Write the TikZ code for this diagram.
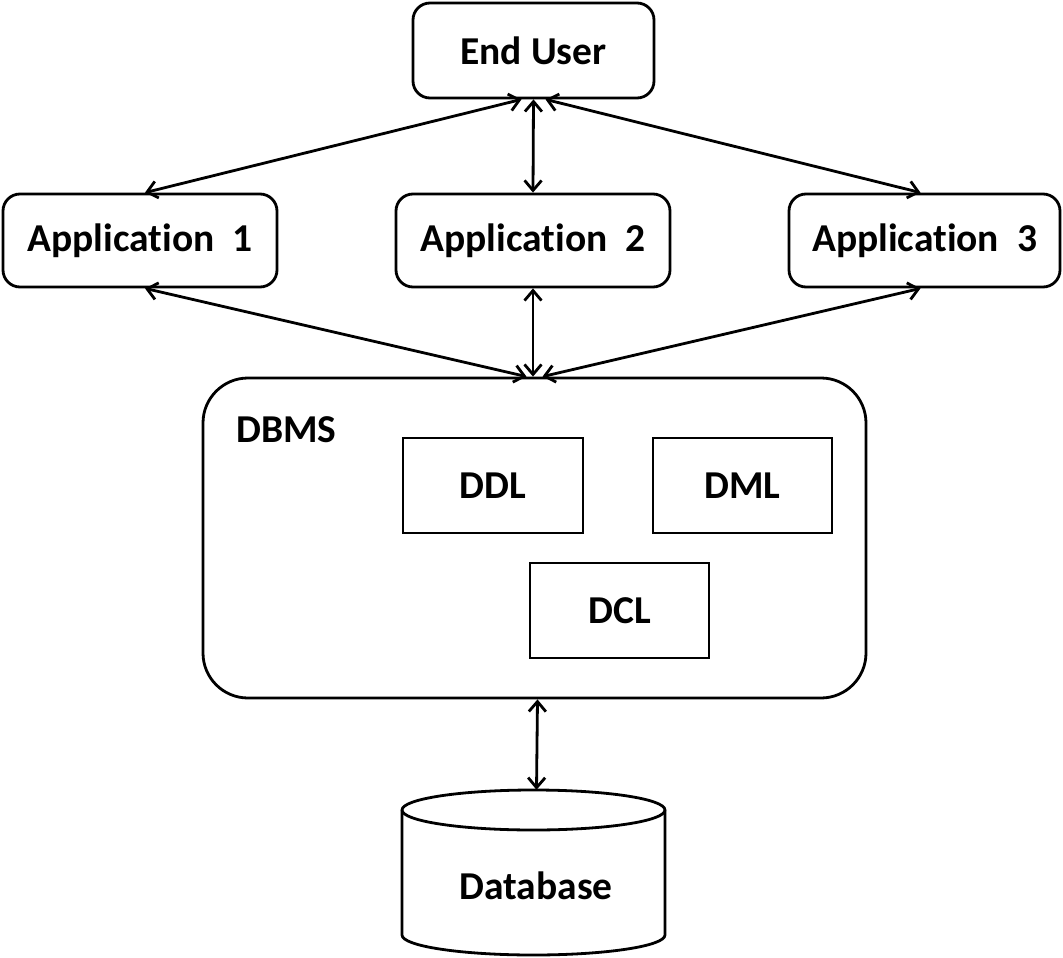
\documentclass[tikz,border=0pt]{standalone}
\usepackage{fontspec}
\setmainfont[Ligatures={NoCommon}]{Carlito}
\usetikzlibrary{arrows.meta}
\tikzset{
  lbl/.style={font=\fontsize{39.5}{42}\selectfont\bfseries},
  box/.style={draw, line width=2.8pt, rounded corners=17pt, inner sep=0pt, lbl},
  sq/.style={draw, line width=2.8pt, inner sep=0pt, lbl},
  conn/.style={line width=2.8pt, {Straight Barb[length=10pt,width=17pt,line width=2.8pt]}-{Straight Barb[length=10pt,width=17pt,line width=2.8pt]}},
}
\begin{document}
\begin{tikzpicture}[x=1pt,y=-1pt]
\useasboundingbox (0,0) rectangle (1063,958);
\node[box, minimum width=241pt, minimum height=95pt] (eu) at (533.5,50.5) {End User};
\node[box, minimum width=274pt, minimum height=93pt] (a1) at (140,240.5) {Application\ \ 1};
\node[box, minimum width=274pt, minimum height=93pt] (a2) at (533,240.5) {Application\ \ 2};
\node[box, minimum width=271pt, minimum height=93pt] (a3) at (924.5,240.5) {Application\ \ 3};
\node[draw, line width=2.8pt, rounded corners=45pt, minimum width=663pt, minimum height=320pt] (dbms) at (534.5,538) {};
\node[lbl, anchor=west, inner sep=0pt] (dbmsl) at (236,430) {DBMS};
\node[sq, minimum width=180pt, minimum height=95pt] (ddl) at (493,485.5) {DDL};
\node[sq, minimum width=179pt, minimum height=95pt] (dml) at (742.5,485.5) {DML};
\node[sq, minimum width=179pt, minimum height=95pt] (dcl) at (619.5,610.5) {DCL};
% database cylinder
\node[minimum width=263pt, minimum height=165pt, inner sep=0pt] (db) at (533.5,872.5) {};
\draw[line width=2.8pt, fill=white] (402,810) -- (402,935) arc[start angle=180, end angle=360, x radius=131.5pt, y radius=20pt] -- (665,810) arc[start angle=0, end angle=180, x radius=131.5pt, y radius=20pt] -- cycle;
\draw[line width=2.8pt] (402,810) arc[start angle=180, end angle=360, x radius=131.5pt, y radius=20pt];
\node[lbl, inner sep=0pt] (dbl) at (536,886) {Database};
% connectors
\draw[conn] ([xshift=-12pt]eu.south) -- ([xshift=5pt]a1.north);
\draw[conn] (eu.south) -- (a2.north);
\draw[conn] ([xshift=12pt]eu.south) -- ([xshift=-4pt]a3.north);
\draw[conn] ([xshift=5pt]a1.south) -- ([xshift=-8pt]dbms.north);
\draw[conn] (a2.south) -- ([xshift=-1.5pt]dbms.north);
\draw[conn] ([xshift=-4pt]a3.south) -- ([xshift=8pt]dbms.north);
\draw[conn] ([xshift=3pt]dbms.south) -- ([xshift=3pt]db.north);
\end{tikzpicture}
\end{document}
